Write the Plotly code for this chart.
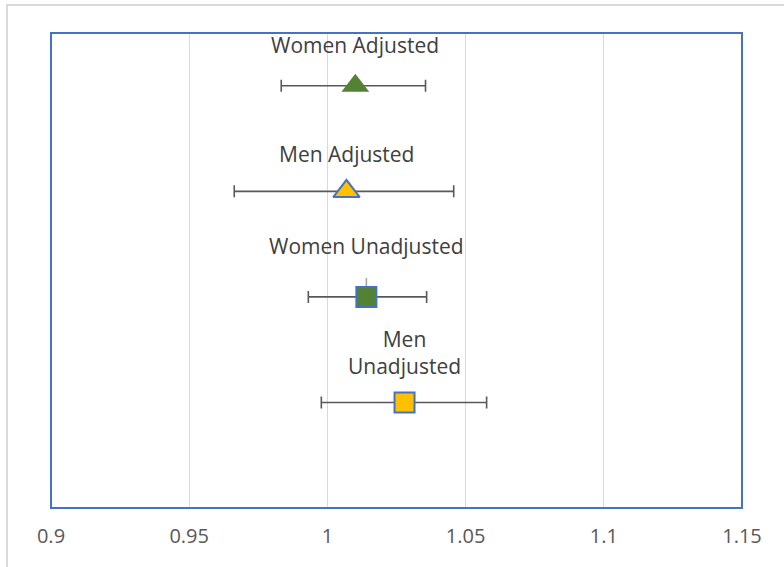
import plotly.graph_objects as go

labels = ["Women Adjusted", "Men Adjusted", "Women Unadjusted", "Men<br>Unadjusted"]
estimates = [1.0101, 1.0069, 1.0141, 1.0279]
lower = [0.9833, 0.9663, 0.9931, 0.9978]
upper = [1.0355, 1.0457, 1.0359, 1.0576]
ypos = [4, 3, 2, 1]
label_y = [4.385, 3.35, 2.48, 1.475]
symbols = ["triangle-up", "triangle-up", "square", "square"]
colors = ["#548235", "#FFC000", "#548235", "#FFC000"]
line_w = [0, 2, 2, 2]
sizes = [24, 23, 20, 20]

fig = go.Figure()
for i in range(4):
    fig.add_trace(go.Scatter(
        x=[estimates[i]], y=[ypos[i]], mode="markers",
        marker=dict(symbol=symbols[i], size=sizes[i], color=colors[i],
                    line=dict(color="#4472C4", width=line_w[i])),
        error_x=dict(type="data", symmetric=False,
                     array=[upper[i] - estimates[i]],
                     arrayminus=[estimates[i] - lower[i]],
                     color="#595959", thickness=1.6, width=6),
        error_y=(dict(type="data", symmetric=False, array=[0.18], arrayminus=[0],
                      color="#A6A6A6", thickness=1.6, width=0) if i == 2 else None),
        showlegend=False,
    ))
    fig.add_annotation(x=estimates[i], y=label_y[i], text=labels[i], showarrow=False,
                       font=dict(family="Open Sans", size=21, color="#404040"))

fig.update_layout(
    width=784, height=567,
    margin=dict(l=51, r=42, t=33, b=59),
    paper_bgcolor="white", plot_bgcolor="white",
    font=dict(family="Open Sans", color="#595959"),
    xaxis=dict(range=[0.9, 1.15], tickvals=[0.9, 0.95, 1, 1.05, 1.1, 1.15],
               ticktext=["0.9", "0.95", "1", "1.05", "1.1", "1.15"],
               showgrid=True, gridcolor="#D9D9D9", gridwidth=1.3,
               zeroline=False, showline=False, ticks="",
               tickfont=dict(size=20, color="#595959"), ticklabelstandoff=14),
    yaxis=dict(range=[0, 4.5], showgrid=False, zeroline=False,
               showticklabels=False, showline=False),
    shapes=[
        dict(type="rect", xref="paper", yref="paper", x0=0, x1=1, y0=0, y1=1,
             line=dict(color="#4472C4", width=2)),
        dict(type="rect", xref="paper", yref="paper", x0=-0.0637, x1=1.2, y0=-0.2, y1=1.059,
             line=dict(color="#D9D9D9", width=2), layer="below"),
    ],
)
fig.write_html("out.html", config={"displayModeBar": False},
               post_script="document.body.style.margin='0';")
